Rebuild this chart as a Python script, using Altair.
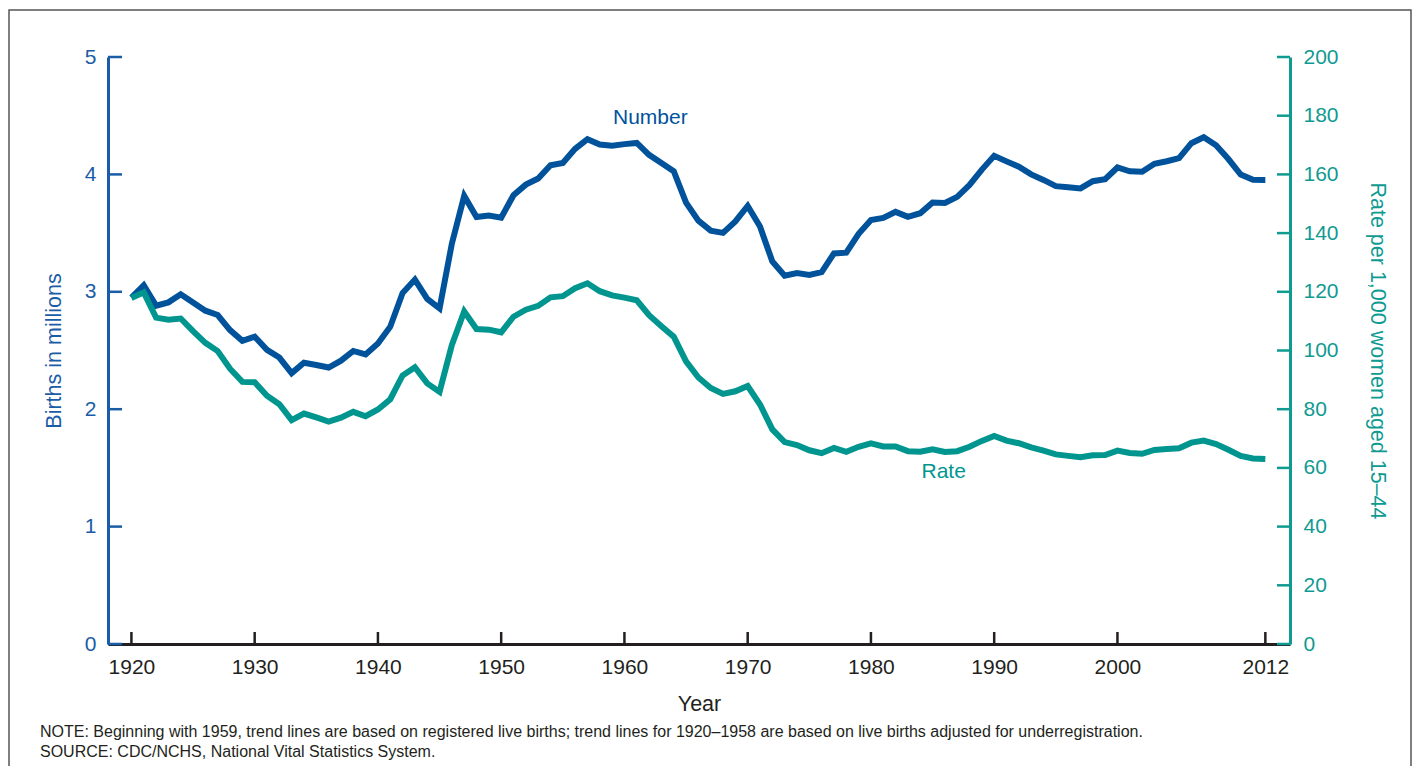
import altair as alt
import pandas as pd

# ---------------- data ----------------
years = list(range(1920, 2013))
births_millions = [
    2.950, 3.055, 2.882, 2.910, 2.979, 2.909, 2.839, 2.802, 2.674, 2.582,  # 1920s
    2.618, 2.506, 2.440, 2.307, 2.396, 2.377, 2.355, 2.413, 2.496, 2.466,  # 1930s
    2.559, 2.703, 2.989, 3.104, 2.939, 2.858, 3.411, 3.817, 3.637, 3.649,  # 1940s
    3.632, 3.823, 3.913, 3.965, 4.078, 4.097, 4.218, 4.300, 4.255, 4.245,  # 1950s
    4.258, 4.268, 4.167, 4.098, 4.027, 3.760, 3.606, 3.521, 3.502, 3.600,  # 1960s
    3.731, 3.556, 3.258, 3.137, 3.160, 3.144, 3.168, 3.327, 3.333, 3.494,  # 1970s
    3.612, 3.629, 3.681, 3.639, 3.669, 3.761, 3.757, 3.809, 3.910, 4.041,  # 1980s
    4.158, 4.111, 4.065, 4.000, 3.953, 3.900, 3.891, 3.881, 3.942, 3.959,  # 1990s
    4.059, 4.026, 4.022, 4.090, 4.112, 4.138, 4.266, 4.316, 4.248, 4.131,  # 2000s
    3.999, 3.954, 3.953,                                                   # 2010-2012
]
rate_per_1000 = [
    117.9, 119.8, 111.2, 110.5, 110.9, 106.6, 102.6, 99.8, 93.8, 89.3,
    89.2, 84.6, 81.7, 76.3, 78.5, 77.2, 75.8, 77.1, 79.1, 77.6,
    79.9, 83.4, 91.5, 94.3, 88.8, 85.9, 101.9, 113.3, 107.3, 107.1,
    106.2, 111.5, 113.9, 115.2, 118.1, 118.5, 121.2, 122.9, 120.2, 118.8,
    118.0, 117.1, 112.0, 108.3, 104.7, 96.3, 90.8, 87.2, 85.2, 86.1,
    87.9, 81.6, 73.1, 68.8, 67.8, 66.0, 65.0, 66.8, 65.5, 67.2,
    68.4, 67.3, 67.3, 65.7, 65.5, 66.3, 65.4, 65.7, 67.2, 69.2,
    70.9, 69.3, 68.4, 67.0, 65.9, 64.6, 64.1, 63.6, 64.3, 64.4,
    65.9, 65.1, 64.8, 66.1, 66.4, 66.7, 68.6, 69.3, 68.1, 66.2,
    64.1, 63.2, 63.0,
]
x_tick_values = [1920, 1930, 1940, 1950, 1960, 1970, 1980, 1990, 2000, 2012]
left_tick_values = [0, 1, 2, 3, 4, 5]
right_tick_values = [0, 20, 40, 60, 80, 100, 120, 140, 160, 180, 200]

NOTE = ("NOTE: Beginning with 1959, trend lines are based on registered live births; "
        "trend lines for 1920\u20131958 are based on live births adjusted for underregistration.\n"
        "SOURCE: CDC/NCHS, National Vital Statistics System.")

# ---------------- style ----------------
FONT = "Liberation Sans"
BLUE_LINE = "#00529b"
TEAL_LINE = "#00968f"
BLUE_AXIS = "#1a5ca6"
TEAL_AXIS = "#0f9a92"
DARK = "#231f20"
W, H = 1182, 587
LABEL_FS = 21
TITLE_FS = 21.5

df = pd.DataFrame({"year": years, "number": births_millions, "rate": rate_per_1000})

xscale = alt.Scale(domain=[1918.1, 2014], nice=False, zero=False)
xaxis = alt.Axis(values=x_tick_values, format="d", tickSize=0, grid=False,
                 labelFont=FONT, labelFontSize=LABEL_FS, labelColor=DARK, labelPadding=12,
                 domainColor=DARK, domainWidth=3,
                 title="Year", titleFont=FONT, titleFontSize=TITLE_FS, titleFontWeight="normal",
                 titleColor=DARK, titleY=49)

yleft_scale = alt.Scale(domain=[0, 5], nice=False, zero=True)
yright_scale = alt.Scale(domain=[0, 200], nice=False, zero=True)

yleft_axis = alt.Axis(orient="left", values=left_tick_values, tickSize=0, grid=False,
                      labelFont=FONT, labelFontSize=LABEL_FS, labelColor=BLUE_AXIS, labelPadding=12,
                      domainColor=BLUE_AXIS, domainWidth=3,
                      title="Births in millions", titleFont=FONT, titleFontSize=TITLE_FS,
                      titleFontWeight="normal", titleColor=BLUE_AXIS,
                      titleX=-48, titleBaseline="alphabetic")
yright_axis = alt.Axis(orient="right", values=right_tick_values, tickSize=0, grid=False,
                       labelFont=FONT, labelFontSize=LABEL_FS, labelColor=TEAL_AXIS, labelPadding=13,
                       domainColor=TEAL_AXIS, domainWidth=3,
                       title="Rate per 1,000 women aged 15\u201344", titleFont=FONT,
                       titleFontSize=TITLE_FS, titleFontWeight="normal", titleColor=TEAL_AXIS,
                       titleX=80, titleBaseline="alphabetic")

X = alt.X("year:Q", scale=xscale, axis=xaxis)

number_line = alt.Chart(df).mark_line(color=BLUE_LINE, strokeWidth=6).encode(
    x=X, y=alt.Y("number:Q", scale=yleft_scale, axis=yleft_axis))

rate_line = alt.Chart(df).mark_line(color=TEAL_LINE, strokeWidth=6).encode(
    x=X, y=alt.Y("rate:Q", scale=yright_scale, axis=yright_axis))

# inward ticks (x uses the same shared axis definition so it merges)
xticks = alt.Chart(pd.DataFrame({"year": x_tick_values})).mark_tick(
    orient="vertical", color=DARK, thickness=2.5, size=12, opacity=1
).encode(x=X, y=alt.value(H - 6))
left_ticks = alt.Chart(pd.DataFrame({"v": left_tick_values})).mark_tick(
    orient="horizontal", color=BLUE_AXIS, thickness=2.5, size=14, opacity=1
).encode(y=alt.Y("v:Q", scale=yleft_scale, axis=None), x=alt.value(7))
right_ticks = alt.Chart(pd.DataFrame({"v": right_tick_values})).mark_tick(
    orient="horizontal", color=TEAL_AXIS, thickness=2.5, size=13, opacity=1
).encode(y=alt.Y("v:Q", scale=yright_scale, axis=None), x=alt.value(W - 6.5))

number_label = alt.Chart(pd.DataFrame({"year": [1962.1]})).mark_text(
    text="Number", font=FONT, fontSize=21, color=BLUE_LINE, align="center", baseline="middle"
).encode(x=X, y=alt.Y(datum=4.48, type="quantitative", scale=yleft_scale, axis=None))
rate_label = alt.Chart(pd.DataFrame({"year": [1985.9]})).mark_text(
    text="Rate", font=FONT, fontSize=21, color=TEAL_LINE, align="center", baseline="middle"
).encode(x=X, y=alt.Y(datum=58.6, type="quantitative", scale=yright_scale, axis=None))

# border frame (outline only)
frame = alt.Chart(pd.DataFrame({"k": [0]})).mark_rect(
    filled=False, color="#555555", strokeWidth=1.5
).encode(x=alt.value(-99), x2=alt.value(1303), y=alt.value(-47), y2=alt.value(800))

note = alt.Chart(pd.DataFrame({"k": [0]})).mark_text(
    text=NOTE, lineBreak="\n", lineHeight=20, font=FONT, fontSize=16, color=DARK,
    align="left", baseline="alphabetic"
).encode(x=alt.value(-68), y=alt.value(680))

chart = alt.layer(
    number_line, rate_line, xticks, left_ticks, right_ticks,
    number_label, rate_label, frame, note
).resolve_scale(y="independent").properties(
    width=W, height=H,
    autosize=alt.AutoSizeParams(type="none"),
    padding={"left": 100, "top": 49, "right": 122, "bottom": 122},
).configure_view(stroke=None)

chart.save("out.html", embed_options={"renderer": "svg", "actions": False})
